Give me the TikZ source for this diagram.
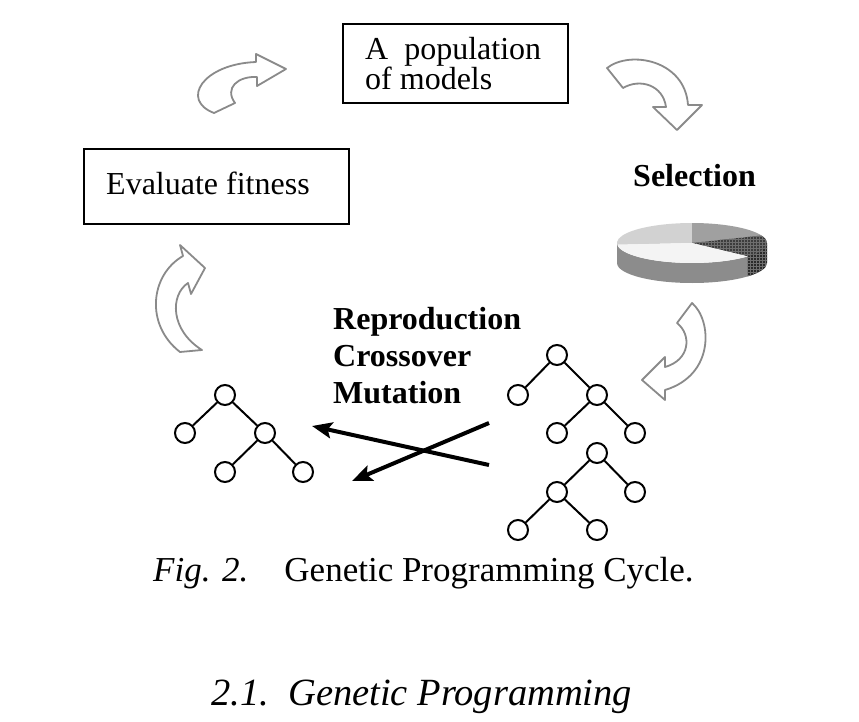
\documentclass[tikz,border=0pt]{standalone}
\usepackage{fontspec}
\setmainfont{Liberation Serif}
\usetikzlibrary{arrows.meta,patterns}
\definecolor{arrowgray}{HTML}{8A8A8A}
\definecolor{pielight}{HTML}{D2D2D2}
\definecolor{piemid}{HTML}{A0A0A0}
\definecolor{piewhite}{HTML}{F4F4F4}
\definecolor{pieside}{HTML}{8C8C8C}
\definecolor{piedark}{HTML}{3C3C3C}
\definecolor{piedarkside}{HTML}{2A2A2A}
\definecolor{piegrid}{HTML}{6E6E6E}
\begin{document}
\begin{tikzpicture}[x=1pt,y=-1pt,
  box/.style={draw=black, line width=2pt, fill=white, inner sep=0pt},
  txt/.style={font=\fontsize{32}{32}\selectfont, inner sep=0pt, anchor=base west},
  boldtxt/.style={font=\fontsize{32}{32}\selectfont\bfseries, inner sep=0pt, anchor=base west},
  tnode/.style={circle, draw=black, line width=2pt, fill=white, minimum size=20pt, inner sep=0pt},
  tedge/.style={line width=2pt},
  blockarrow/.style={draw=arrowgray, line width=1.8pt, fill=white, line join=round},
  xarrow/.style={line width=4pt, -{Stealth[length=20pt,width=16pt,inset=4pt]}},
  captxt/.style={font=\fontsize{35}{35}\selectfont, inner sep=0pt, anchor=base west},
  headtxt/.style={font=\fontsize{38.5}{38.5}\selectfont\itshape, inner sep=0pt, anchor=base west}
]
\useasboundingbox (0,0) rectangle (859,722);

% boxes
\node[box, minimum width=225pt, minimum height=79pt, anchor=north west] (popbox) at (342,23) {};
\node[txt] (pop1) at (365,60) {A\ \ population};
\node[txt] (pop2) at (365,90) {of models};
\node[box, minimum width=265pt, minimum height=75pt, anchor=north west] (evalbox) at (83,148) {};
\node[txt] (evaltext) at (106,195) {Evaluate fitness};

% bold labels
\node[boldtxt] (sel) at (633,186) {Selection};
\node[boldtxt] (rep) at (333,329) {Reproduction};
\node[boldtxt] (cro) at (333,366) {Crossover};
\node[boldtxt] (mut) at (333,403) {Mutation};

% block arrows
\draw[blockarrow] (214,113) .. controls (180,100) and (203,64) .. (256,62)
  -- (256,54) -- (286,69) -- (257,86) -- (257,77)
  .. controls (238,76) and (224,88) .. (235,103) -- cycle;
\draw[blockarrow] (607,68) .. controls (630,50) and (685,60) .. (688,105)
  -- (702,105) -- (677,130) -- (653,107) -- (666,107)
  .. controls (663,85) and (640,78) .. (623,88) -- cycle;
\draw[blockarrow] (692,303) .. controls (712,320) and (715,375) .. (665,390)
  -- (665,400) -- (642,380) -- (665,357) -- (665,367)
  .. controls (690,360) and (692,335) .. (677,323) -- cycle;
\draw[blockarrow] (180,352) .. controls (145,325) and (150,275) .. (183,256)
  -- (180,245) -- (205,268) -- (191,294) -- (188,283)
  .. controls (170,295) and (170,330) .. (202,350) -- cycle;

% pie chart
\begin{scope}[shift={(692,243)}, yscale=-1]
  \fill[pieside] (180:75 and 20) arc[start angle=180, end angle=318, x radius=75, y radius=20]
    -- ++(0,-20) arc[start angle=318, end angle=180, x radius=75, y radius=20] -- cycle;
  \fill[piedarkside] (318:75 and 20) arc[start angle=318, end angle=360, x radius=75, y radius=20]
    -- ++(0,-20) arc[start angle=360, end angle=318, x radius=75, y radius=20] -- cycle;
  \fill[pattern=grid, pattern color=piegrid] (318:75 and 20) arc[start angle=318, end angle=360, x radius=75, y radius=20]
    -- ++(0,-20) arc[start angle=360, end angle=318, x radius=75, y radius=20] -- cycle;
  \fill[pielight] (0,0) -- (90:75 and 20) arc[start angle=90, end angle=185, x radius=75, y radius=20] -- cycle;
  \fill[piemid] (0,0) -- (22:75 and 20) arc[start angle=22, end angle=90, x radius=75, y radius=20] -- cycle;
  \fill[piedark] (0,0) -- (-42:75 and 20) arc[start angle=-42, end angle=22, x radius=75, y radius=20] -- cycle;
  \fill[pattern=grid, pattern color=piegrid] (0,0) -- (-42:75 and 20) arc[start angle=-42, end angle=22, x radius=75, y radius=20] -- cycle;
  \fill[piewhite] (0,0) -- (185:75 and 20) arc[start angle=185, end angle=318, x radius=75, y radius=20] -- cycle;
\end{scope}

% trees
\node[tnode] (lr) at (225,395) {};
\node[tnode] (la) at (185,433) {};
\node[tnode] (lb) at (265,433) {};
\node[tnode] (lc) at (225,472) {};
\node[tnode] (ld) at (303,472) {};
\draw[tedge] (lr) -- (la) (lr) -- (lb) (lb) -- (lc) (lb) -- (ld);

\node[tnode] (ar) at (557,355) {};
\node[tnode] (aa) at (518,395) {};
\node[tnode] (ab) at (597,395) {};
\node[tnode] (ac) at (557,433) {};
\node[tnode] (ad) at (635,433) {};
\draw[tedge] (ar) -- (aa) (ar) -- (ab) (ab) -- (ac) (ab) -- (ad);

\node[tnode] (br) at (597,453) {};
\node[tnode] (ba) at (557,492) {};
\node[tnode] (bb) at (635,492) {};
\node[tnode] (bc) at (518,530) {};
\node[tnode] (bd) at (597,530) {};
\draw[tedge] (br) -- (ba) (br) -- (bb) (ba) -- (bc) (ba) -- (bd);

% crossing arrows
\coordinate (x1s) at (489,423);
\coordinate (x1e) at (352,481);
\coordinate (x2s) at (489,465);
\coordinate (x2e) at (312,426);
\draw[xarrow] (x1s) -- (x1e);
\draw[xarrow] (x2s) -- (x2e);

% caption
\node[captxt] (cap) at (153,581) {\textit{Fig. 2.}\hspace{36pt}Genetic Programming Cycle.};
\node[headtxt] (head) at (211,705) {2.1.\ \ Genetic Programming};
\end{tikzpicture}
\end{document}
